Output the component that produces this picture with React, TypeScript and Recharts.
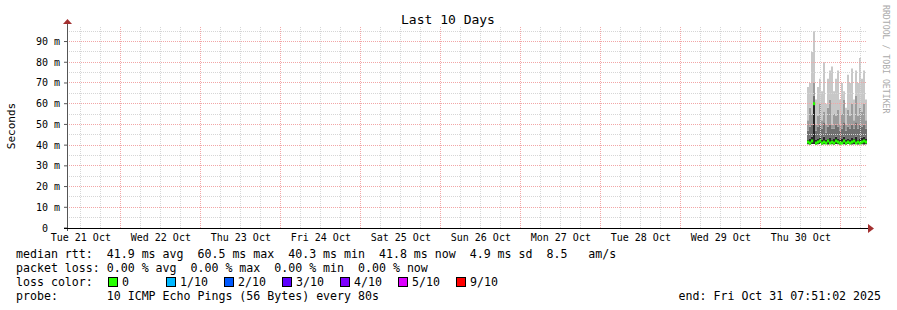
import React from 'react';
import { ComposedChart, Area, Scatter, XAxis, YAxis, ReferenceLine } from 'recharts';

// time axis in hours since Tue 21 Oct 00:00
const START_HOUR = 7.85;
const END_HOUR = 247.85;

const DAY_LABELS = ['Tue 21 Oct', 'Wed 22 Oct', 'Thu 23 Oct', 'Fri 24 Oct', 'Sat 25 Oct', 'Sun 26 Oct', 'Mon 27 Oct', 'Tue 28 Oct', 'Wed 29 Oct', 'Thu 30 Oct'];
const DAY_LABEL_HOURS = [12, 36, 60, 84, 108, 132, 156, 180, 204, 228];
const Y_TICKS = [0, 10, 20, 30, 40, 50, 60, 70, 80, 90];

const TIMES = [229.85, 230.45, 231.05, 231.65, 232.25, 232.85, 233.45, 234.05, 234.65, 235.25, 235.85, 236.45, 237.05, 237.65, 238.25, 238.85, 239.45, 240.05, 240.65, 241.25, 241.85, 242.45, 243.05, 243.65, 244.25, 244.85, 245.45, 246.05, 246.65, 247.25];
const MIN_RTT = [40.4, 40.3, 40.5, 40.6, 40.3, 40.4, 40.5, 40.3, 40.4, 40.6, 40.3, 40.5, 40.4, 40.3, 40.5, 40.4, 40.3, 40.6, 40.4, 40.3, 40.5, 40.4, 40.3, 40.4, 40.6, 40.3, 40.5, 40.4, 40.3, 40.4];
const SMOKE_1 = [42.5, 43, 44, 60, 42.5, 43, 43.5, 42.5, 44, 42.5, 43, 43.5, 42.5, 43, 44, 43, 42.5, 43, 44, 42.5, 43, 42.5, 43.5, 43, 44, 42.5, 43, 43.5, 44, 43];
const SMOKE_2 = [47, 49, 50, 64, 47, 49, 50, 48, 51, 46, 49, 50, 48, 48, 50, 49, 47, 48, 51, 47, 49, 48, 50, 48, 51, 48, 50, 49, 50, 48];
const SMOKE_3 = [52, 58, 55, 70, 50, 54, 60, 52, 56, 50, 58, 62, 50, 55, 54, 57, 50, 55, 62, 50, 57, 54, 60, 52, 64, 54, 58, 56, 60, 52];
const MAX_RTT = [68, 70, 85, 95, 62, 68, 72, 66, 80, 60, 72, 76, 78, 66, 72, 76, 62, 70, 66, 58, 74, 70, 77, 62, 76, 70, 82, 72, 76, 62];
const MEDIAN_RTT = [41.5, 41, 42, 60, 41, 41.5, 42, 41, 41.5, 41, 42, 41, 41.5, 41, 42, 41.5, 41, 41, 42, 41, 41.5, 41, 41.5, 42, 41, 41.5, 41, 41.5, 42, 41.5];

const LOSS_COLORS = ['#26ff00', '#00b8ff', '#0059ff', '#5e00ff', '#7e00ff', '#dd00ff', '#ff0000'];
const LOSS_LABELS = ['0', '1/10', '2/10', '3/10', '4/10', '5/10', '9/10'];

const rows: any[] = TIMES.map((t, i) => ({
  t,
  base: MIN_RTT[i],
  b1: SMOKE_1[i] - MIN_RTT[i],
  b2: SMOKE_2[i] - SMOKE_1[i],
  b3: SMOKE_3[i] - SMOKE_2[i],
  b4: MAX_RTT[i] - SMOKE_3[i],
  median: MEDIAN_RTT[i],
}));
rows.push({ ...rows[rows.length - 1], t: END_HOUR, median: null });

const medianPoints = TIMES.map((t, i) => ({ t, median: MEDIAN_RTT[i] }));

const majorX: number[] = [];
const minorX: number[] = [];
for (let h = 12; h < END_HOUR; h += 6) {
  if (h % 24 === 0) majorX.push(h);
  else minorX.push(h);
}
const majorY = [10, 20, 30, 40, 50, 60, 70, 80, 90];
const minorY = [5, 15, 25, 35, 45, 55, 65, 75, 85, 95];

const MONO = '"DejaVu Sans Mono", monospace';

const XTick = (props: any) => {
  const idx = DAY_LABEL_HOURS.indexOf(props.payload.value);
  return (
    <text x={props.x} y={props.y + 13} textAnchor="middle" fontFamily={MONO} fontSize={10} fill="#000">
      {DAY_LABELS[idx]}
    </text>
  );
};

const YTick = (props: any) => {
  const v = props.payload.value;
  return (
    <text x={v === 0 ? props.x - 12 : props.x} y={props.y + 3.5} textAnchor="end" fontFamily={MONO} fontSize={10} fill="#000">
      {v === 0 ? '0' : `${v} m`}
    </text>
  );
};

const MedianMark = (props: any) => {
  if (props.cx == null || props.cy == null) return null;
  return <rect x={props.cx} y={props.cy - 1.5} width={2.2} height={3} fill="#26ff00" />;
};

const rowStyle = (top: number): React.CSSProperties => ({
  position: 'absolute',
  left: 16,
  top,
  fontFamily: MONO,
  fontSize: 11.6,
  lineHeight: '14px',
  whiteSpace: 'pre',
  color: '#000',
});

export default function App() {
  return (
    <div style={{ position: 'absolute', left: 0, top: 0, width: 897, height: 310, background: '#fff', overflow: 'hidden' }}>
      <ComposedChart width={897} height={310} data={rows} margin={{ top: 26, right: 30, bottom: 52, left: 7 }}>
        <XAxis
          dataKey="t"
          type="number"
          domain={[START_HOUR, END_HOUR]}
          ticks={DAY_LABEL_HOURS}
          interval={0}
          tick={XTick}
          tickLine={false}
          tickSize={0}
          tickMargin={0}
          height={30}
          axisLine={false}
          allowDataOverflow
        />
        <YAxis
          type="number"
          domain={[0, 97.5]}
          ticks={Y_TICKS}
          interval={0}
          tick={YTick}
          width={60}
          tickSize={3}
          tickMargin={4}
          tickLine={{ stroke: '#555' }}
          axisLine={false}
          allowDataOverflow
        />
        <Area dataKey="base" stackId="s" type="stepAfter" stroke="none" fill="none" isAnimationActive={false} />
        <Area dataKey="b1" stackId="s" type="stepAfter" stroke="none" fill="#262626" fillOpacity={1} isAnimationActive={false} />
        <Area dataKey="b2" stackId="s" type="stepAfter" stroke="none" fill="#707070" fillOpacity={1} isAnimationActive={false} />
        <Area dataKey="b3" stackId="s" type="stepAfter" stroke="none" fill="#9c9c9c" fillOpacity={1} isAnimationActive={false} />
        <Area dataKey="b4" stackId="s" type="stepAfter" stroke="none" fill="#c8c8c8" fillOpacity={1} isAnimationActive={false} />
        {minorX.map((h) => (
          <ReferenceLine key={'vx' + h} x={h} stroke="#d6d6d6" strokeDasharray="1 1" shapeRendering="crispEdges" />
        ))}
        {minorY.map((v) => (
          <ReferenceLine key={'vy' + v} y={v} stroke="#d6d6d6" strokeDasharray="1 1" shapeRendering="crispEdges" />
        ))}
        {majorX.map((h) => (
          <ReferenceLine key={'mx' + h} x={h} stroke="#f2a6a6" strokeDasharray="1 1" shapeRendering="crispEdges" />
        ))}
        {majorY.map((v) => (
          <ReferenceLine key={'my' + v} y={v} stroke="#f2a6a6" strokeDasharray="1 1" shapeRendering="crispEdges" />
        ))}
        <Scatter data={medianPoints} dataKey="median" shape={MedianMark} isAnimationActive={false} />
      </ComposedChart>

      <svg width={897} height={310} style={{ position: 'absolute', left: 0, top: 0, pointerEvents: 'none' }}>
        <line x1={67.5} y1={21} x2={67.5} y2={231} stroke="#555" />
        <line x1={64} y1={228.5} x2={868} y2={228.5} stroke="#000" />
        <polygon points="63,24 72,24 67.5,19" fill="#a33030" />
        <polygon points="868,224 868,233 874,228.5" fill="#a33030" />
        <text x={448} y={24} textAnchor="middle" fontFamily={MONO} fontSize={13} fill="#000">Last 10 Days</text>
        <text x={0} y={0} transform="translate(15,126) rotate(-90)" textAnchor="middle" fontFamily={MONO} fontSize={11} fill="#000">Seconds</text>
        <text x={0} y={0} transform="translate(883,5) rotate(90)" textAnchor="start" fontFamily={MONO} fontSize={8.2} fill="#aaa">RRDTOOL / TOBI OETIKER</text>
      </svg>

      <div style={rowStyle(247)}>{'median rtt:  41.9 ms avg  60.5 ms max  40.3 ms min  41.8 ms now  4.9 ms sd  8.5   am/s'}</div>
      <div style={rowStyle(261)}>{'packet loss: 0.00 % avg  0.00 % max  0.00 % min  0.00 % now'}</div>
      <div style={rowStyle(275)}>{'loss color:'}</div>
      {LOSS_LABELS.map((lbl, i) => (
        <React.Fragment key={lbl}>
          <div style={{ position: 'absolute', left: 108 + i * 58, top: 277, width: 8, height: 8, background: LOSS_COLORS[i], border: '1px solid #000' }} />
          <div style={{ ...rowStyle(275), left: 122 + i * 58 }}>{lbl}</div>
        </React.Fragment>
      ))}
      <div style={rowStyle(289)}>{'probe:       10 ICMP Echo Pings (56 Bytes) every 80s'}</div>
      <div style={{ ...rowStyle(289), left: 'auto', right: 16 }}>{'end: Fri Oct 31 07:51:02 2025'}</div>
    </div>
  );
}
